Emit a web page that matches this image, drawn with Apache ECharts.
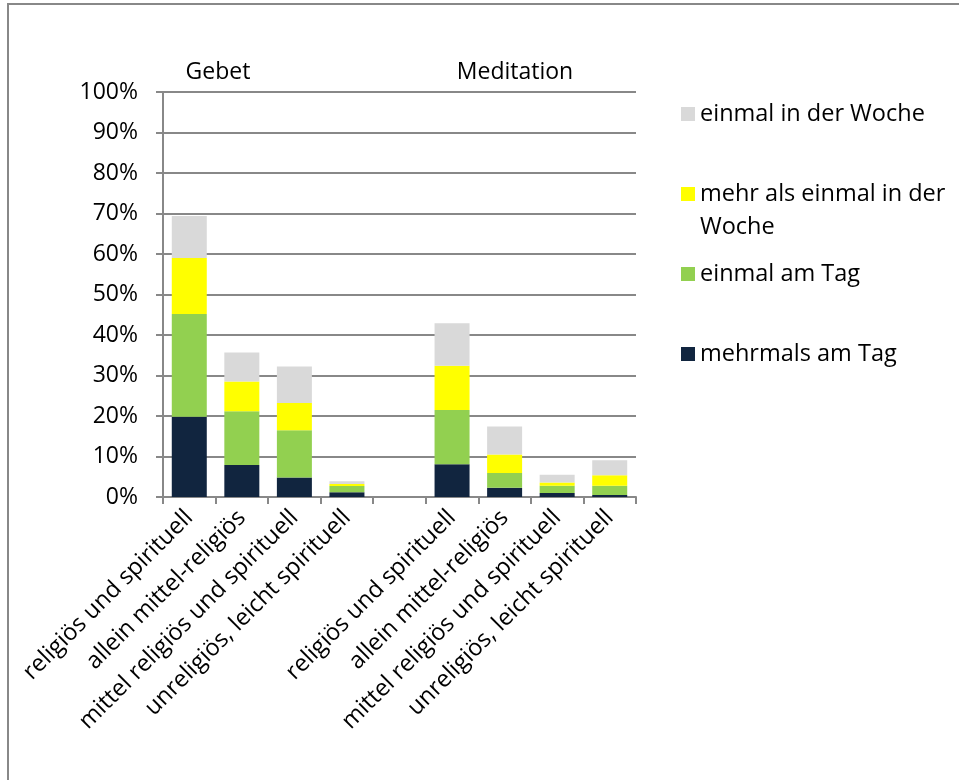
<!DOCTYPE html>
<html>
<head>
<meta charset="utf-8">
<script src="https://cdn.jsdelivr.net/npm/echarts@6/dist/echarts.min.js"></script>
<style>
  html, body { margin: 0; padding: 0; background: #fff; }
  #chart { width: 959px; height: 780px; }
</style>
</head>
<body>
<div id="chart"></div>
<script>
// Kategorien (Index 4 ist die Lücke zwischen Gebet und Meditation)
const categories = [
  'religiös und spirituell', 'allein mittel-religiös', 'mittel religiös und spirituell', 'unreligiös, leicht spirituell',
  '',
  'religiös und spirituell', 'allein mittel-religiös', 'mittel religiös und spirituell', 'unreligiös, leicht spirituell'
];
const groupTitles = ['Gebet', 'Meditation'];

// Anteile in %
const mehrmalsAmTag = [19.8, 7.9, 4.8, 1.2, null, 8.1, 2.3, 1.0, 0.5];
const einmalAmTag = [25.4, 13.3, 11.7, 1.5, null, 13.4, 3.6, 1.8, 2.3];
const mehrAlsEinmalWoche = [13.8, 7.3, 6.7, 0.5, null, 10.9, 4.6, 0.8, 2.6];
const einmalWoche = [10.4, 7.2, 9.0, 0.7, null, 10.5, 6.9, 1.9, 3.7];

const seriesNames = ['mehrmals am Tag', 'einmal am Tag', 'mehr als einmal in der Woche', 'einmal in der Woche'];
const colors = ['#11253f', '#92d050', '#ffff00', '#d9d9d9'];

const font = 'Open Sans';
const fs = 23;
const grey = '#888888';

const chart = echarts.init(document.getElementById('chart'));

// eine Legende je Eintrag, damit die Abstände wie im Original sind
function legendAt(name, top) {
  return {
    data: [name],
    left: 681,
    top: top,
    padding: 0,
    itemWidth: 14,
    itemHeight: 14,
    icon: 'rect',
    textStyle: { fontFamily: font, fontSize: 23.5, color: '#000', lineHeight: 28 }
  };
}

const option = {
  animation: false,
  color: colors,
  grid: { left: 163, top: 92, width: 473, height: 405 },
  graphic: [
    { type: 'rect', shape: { x: 8, y: 4, width: 1000, height: 1000 }, style: { fill: 'none', stroke: grey, lineWidth: 2 }, silent: true },
    { type: 'text', x: 218, y: 72, style: { text: groupTitles[0], font: fs + 'px "' + font + '"', fill: '#000', align: 'center', verticalAlign: 'middle' } },
    { type: 'text', x: 515, y: 72, style: { text: groupTitles[1], font: fs + 'px "' + font + '"', fill: '#000', align: 'center', verticalAlign: 'middle' } },
    { type: 'text', x: 700, y: 227, style: { text: 'Woche', font: '23.5px "' + font + '"', fill: '#000', align: 'left', verticalAlign: 'middle' } }
  ],
  legend: [
    legendAt(seriesNames[3], 100),
    legendAt('mehr als einmal in der', 180),
    legendAt(seriesNames[1], 260),
    legendAt(seriesNames[0], 340)
  ],
  xAxis: {
    type: 'category',
    data: categories,
    axisLine: { lineStyle: { color: grey, width: 2 } },
    axisTick: { show: true, length: 7, lineStyle: { color: grey, width: 2 } },
    axisLabel: {
      interval: 0,
      rotate: 45,
      margin: 17,
      fontFamily: font,
      fontSize: 23.5,
      color: '#000'
    }
  },
  yAxis: {
    type: 'value',
    min: 0,
    max: 100,
    interval: 10,
    axisLine: { show: true, lineStyle: { color: grey, width: 2 } },
    axisTick: { show: true, length: 7, lineStyle: { color: grey, width: 2 } },
    splitLine: { lineStyle: { color: grey, width: 2 } },
    axisLabel: {
      formatter: '{value}%',
      margin: 25,
      fontFamily: font,
      fontSize: fs,
      color: '#000'
    }
  },
  series: [
    { name: seriesNames[0], type: 'bar', stack: 'a', barWidth: 35, data: mehrmalsAmTag },
    { name: seriesNames[1], type: 'bar', stack: 'a', barWidth: 35, data: einmalAmTag },
    { name: 'mehr als einmal in der', type: 'bar', stack: 'a', barWidth: 35, data: mehrAlsEinmalWoche },
    { name: seriesNames[3], type: 'bar', stack: 'a', barWidth: 35, data: einmalWoche }
  ]
};

chart.setOption(option);
</script>
</body>
</html>
